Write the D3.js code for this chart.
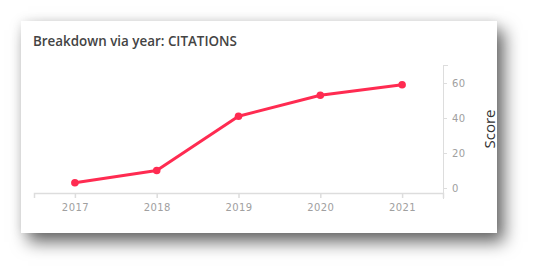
<!DOCTYPE html>
<html lang="en">
<head>
  <meta charset="UTF-8">
  <title>Breakdown via year: CITATIONS</title>
  <script src="https://d3js.org/d3.v7.min.js"></script>
  <style>
    body {
      margin: 0;
      background: #fff;
      width: 539px;
      height: 275px;
      overflow: hidden;
      position: relative;
    }
    .card {
      position: absolute;
      left: 21px;
      top: 21px;
      width: 476px;
      height: 212px;
      background: #fff;
      box-shadow: 7px 9px 16px rgba(0, 0, 0, 0.6), 0 0 10px rgba(0, 0, 0, 0.08);
    }
    svg {
      position: absolute;
      left: 0;
      top: 0;
    }
  </style>
</head>
<body>
  <div class="card"></div>
  <script>
    const width = 539;
    const height = 275;

    // chart data
    const years = ['2017', '2018', '2019', '2020', '2021'];
    const citations = [3, 10, 41, 53, 59];
    const yTicks = [0, 20, 40, 60];

    const svg = d3.select("body")
      .append("svg")
      .attr("width", width)
      .attr("height", height);

    // title
    svg.append("text")
      .attr("x", 33)
      .attr("y", 46)
      .attr("font-family", "'Open Sans', sans-serif")
      .attr("font-weight", 600)
      .attr("font-size", 13.4)
      .attr("fill", "#444")
      .text("Breakdown via year: CITATIONS");

    const x = d3.scalePoint()
      .domain(years)
      .range([34, 443])
      .padding(0.5);

    const y = d3.scaleLinear()
      .domain([-6, 70])
      .range([198.5, 65.5]);

    // x axis
    const xAxis = svg.append("g")
      .attr("transform", "translate(0,193)")
      .call(d3.axisBottom(x).tickSize(5).tickSizeOuter(5).tickPadding(6));
    xAxis.select(".domain").attr("stroke", "#ddd").attr("stroke-width", 1.5);
    xAxis.selectAll(".tick line").attr("stroke", "#ddd").attr("stroke-width", 1.5);
    xAxis.selectAll(".tick text")
      .attr("font-family", "'DejaVu Sans', sans-serif")
      .attr("font-size", 10)
      .attr("letter-spacing", 0.4)
      .attr("fill", "#a0a0a0");

    // y axis on the right
    const yAxis = svg.append("g")
      .attr("transform", "translate(443,0)")
      .call(d3.axisRight(y).tickValues(yTicks).tickSize(4).tickSizeOuter(0).tickPadding(5));
    yAxis.select(".domain").attr("stroke", "#ddd").attr("stroke-width", 1);
    yAxis.append("line")
      .attr("x1", 0).attr("x2", 5)
      .attr("y1", y.range()[1]).attr("y2", y.range()[1])
      .attr("stroke", "#ddd");
    yAxis.selectAll(".tick line").attr("stroke", "#ddd");
    yAxis.selectAll(".tick text")
      .attr("font-family", "'DejaVu Sans', sans-serif")
      .attr("font-size", 10)
      .attr("letter-spacing", 0.4)
      .attr("fill", "#a0a0a0");

    // axis title
    svg.append("text")
      .attr("transform", "translate(495,129) rotate(-90)")
      .attr("text-anchor", "middle")
      .attr("font-family", "'Open Sans', sans-serif")
      .attr("font-size", 15)
      .attr("fill", "#333")
      .text("Score");

    // line
    const line = d3.line()
      .x((d, i) => x(years[i]))
      .y(d => y(d));

    svg.append("path")
      .datum(citations)
      .attr("d", line)
      .attr("fill", "none")
      .attr("stroke", "#ff2b51")
      .attr("stroke-width", 3)
      .attr("stroke-linejoin", "round");

    svg.selectAll("circle.pt")
      .data(citations)
      .enter().append("circle")
      .attr("class", "pt")
      .attr("cx", (d, i) => x(years[i]))
      .attr("cy", d => y(d))
      .attr("r", 3.8)
      .attr("fill", "#ff2b51");
  </script>
</body>
</html>
